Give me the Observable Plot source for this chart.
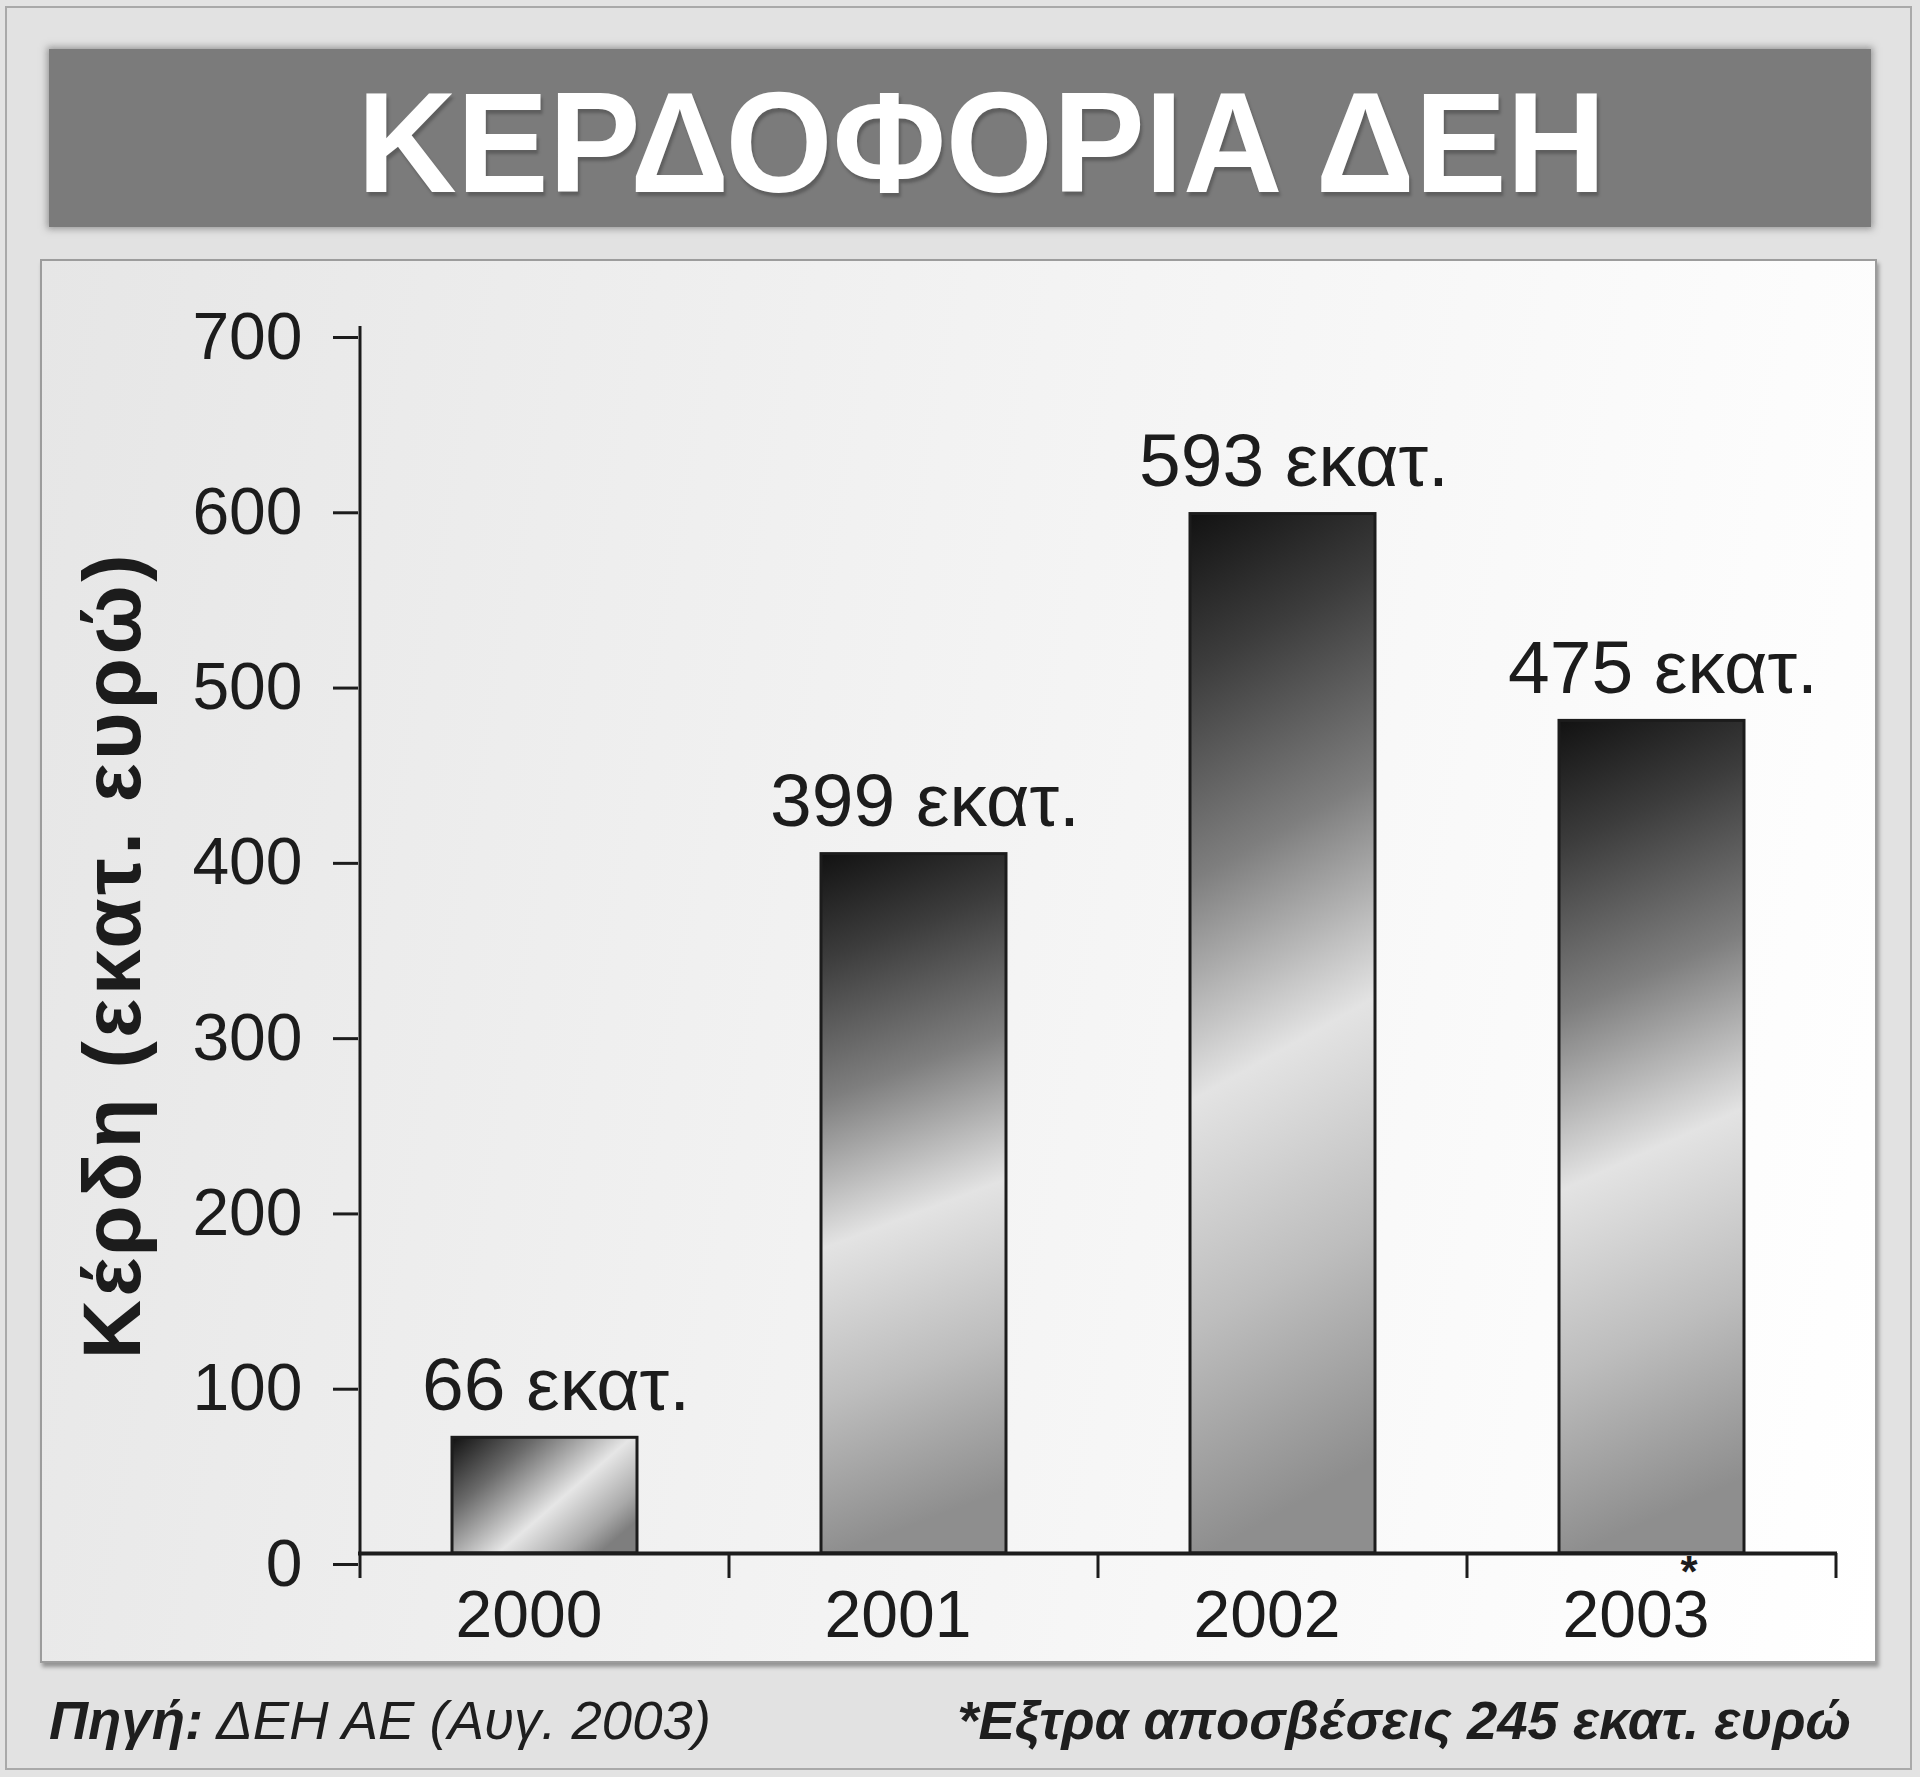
<!DOCTYPE html>
<html>
<head>
<meta charset="utf-8">
<script src="https://cdn.jsdelivr.net/npm/d3@7"></script>
<script src="https://cdn.jsdelivr.net/npm/@observablehq/plot@0.6"></script>
<style>
  html, body { margin: 0; padding: 0; }
  body { width: 1920px; height: 1777px; background: #e3e3e3; position: relative; overflow: hidden;
         font-family: "Liberation Sans", Arial, Helvetica, sans-serif; }
  #outer { position: absolute; left: 5px; top: 6px; width: 1907px; height: 1764px;
           border: 2px solid #a9a9a9; box-sizing: border-box; background: #e2e2e2; }
  #banner { position: absolute; left: 49px; top: 49px; width: 1822px; height: 178px;
            background: #7b7b7b; box-shadow: 0 0 7px 2px rgba(90,90,90,0.55);
            text-align: center; line-height: 178px; }
  #banner span { display: inline-block; color: #fff; font-weight: bold; font-size: 142px;
                 position: relative; top: 5px; left: 22px; transform: scaleX(0.97);
                 text-shadow: 2px 4px 3px rgba(40,40,40,0.35); }
  #panel { position: absolute; left: 40px; top: 259px; width: 1837px; height: 1404px; box-sizing: border-box;
           border: 2px solid #9c9c9c;
           background: linear-gradient(100deg, #e6e6e6 0%, #f2f2f2 45%, #fcfcfc 85%, #ffffff 100%);
           box-shadow: 2px 4px 4px rgba(0,0,0,0.35); }
  #chart { position: absolute; left: 40px; top: 259px; }
  .foot { position: absolute; top: 1694px; font-size: 54.5px; line-height: 54px; font-style: italic; color: #1e1e1e; }
  #source { left: 49px; }
  #note { right: 69px; font-weight: bold; }
</style>
</head>
<body>
<div id="outer"></div>
<div id="banner"><span id="title"></span></div>
<div id="panel"></div>
<div id="chart"></div>
<div class="foot" id="source"></div>
<div class="foot" id="note"></div>
<script>
// ---- data ----
const title = "ΚΕΡΔΟΦΟΡΙΑ ΔΕΗ";
const years = ["2000", "2001", "2002", "2003"];
const profits = [66, 399, 593, 475];
const unit = "εκατ.";
const yTicks = [0, 100, 200, 300, 400, 500, 600, 700];
const yTitle = "Κέρδη (εκατ. ευρώ)";
const noteYears = ["2003"];
const noteMarks = ["*"];
const sourceLabel = "Πηγή:";
const sourceText = "ΔΕΗ ΑΕ (Αυγ. 2003)";
const footnote = "*Εξτρα αποσβέσεις 245 εκατ. ευρώ";

const data = years.map((year, i) => ({year, value: profits[i], label: `${profits[i]} ${unit}`}));
const notes = noteYears.map((year, i) => ({year, base: 0, mark: noteMarks[i]}));

document.getElementById("title").textContent = title;
document.getElementById("source").innerHTML = `<b>${sourceLabel}</b> ${sourceText}`;
document.getElementById("note").textContent = footnote;

const ink = "#1c1c1c";

// boundary ticks between categories + y axis line
function frameTicks(index, scales, values, dimensions) {
  const x = scales.x, y = scales.y;
  const step = x.step(), bw = x.bandwidth();
  const gap = (step - bw) / 2;
  const pos = years.map(d => x(d) - gap);
  pos.push(x(years[years.length - 1]) + bw + gap);
  const g = d3.create("svg:g").attr("stroke", ink).attr("stroke-width", 3);
  const y0 = y(0);
  g.append("line").attr("x1", pos[0]).attr("x2", pos[0]).attr("y1", y(yTicks[yTicks.length - 1])).attr("y2", y0);
  for (const p of pos) {
    g.append("line").attr("x1", p).attr("x2", p).attr("y1", y0).attr("y2", y0 + 25);
  }
  return g.node();
}

const chart = Plot.plot({
  width: 1837,
  height: 1404,
  marginLeft: 318,
  marginRight: 40,
  marginTop: 67,
  marginBottom: 110,
  style: {background: "transparent", color: ink, fontFamily: "'Liberation Sans', Arial, Helvetica, sans-serif", overflow: "visible"},
  x: {domain: years, paddingInner: 0.5, paddingOuter: 0.25, axis: null, label: null},
  y: {domain: [0, 700], axis: null, label: null},
  marks: [
    Plot.barY(data, {filter: d => d.value < 100, x: "year", y: "value", fill: "url(#barShort)", stroke: ink, strokeWidth: 3}),
    Plot.barY(data, {filter: d => d.value >= 100, x: "year", y: "value", fill: "url(#barTall)", stroke: ink, strokeWidth: 3}),
    frameTicks,
    Plot.ruleY([0], {stroke: ink, strokeWidth: 4}),
    Plot.axisY({ticks: yTicks, tickSize: 25, tickPadding: 31, fontSize: 66, strokeWidth: 3, label: null, dy: 11}),
    Plot.axisX({tickSize: 0, tickPadding: 37, fontSize: 66, label: null, dx: -16}),
    Plot.text(data, {x: "year", y: "value", text: "label", fontSize: 75, lineAnchor: "bottom", dy: -28, dx: 11}),
    Plot.text(notes, {x: "year", y: "base", text: "mark", fontSize: 44, fontWeight: "bold", dx: 37, dy: 19}),
    Plot.text([yTitle], {frameAnchor: "left", textAnchor: "middle", lineAnchor: "middle", rotate: -90, dx: -245, dy: 15, fontSize: 82, fontWeight: "bold"})
  ]
});

const svg = d3.select(chart);
svg.selectAll("text").filter(function() { return this.textContent === yTitle; })
  .style("letter-spacing", "3.5px");
const defs = svg.insert("defs", ":first-child");
const tall = defs.append("linearGradient").attr("id", "barTall")
  .attr("x1", 0).attr("y1", 0).attr("x2", 0.1).attr("y2", 1);
[[0, "#121212"], [0.15, "#3c3c3c"], [0.35, "#7e7e7e"], [0.56, "#e3e3e3"], [0.78, "#bdbdbd"], [1, "#8e8e8e"]]
  .forEach(([o, c]) => tall.append("stop").attr("offset", o).attr("stop-color", c));
const short = defs.append("linearGradient").attr("id", "barShort")
  .attr("x1", 0).attr("y1", 0).attr("x2", 1).attr("y2", 0.72);
[[0, "#111111"], [0.3, "#6a6a6a"], [0.64, "#e6e6e6"], [0.88, "#a9a9a9"], [1, "#7e7e7e"]]
  .forEach(([o, c]) => short.append("stop").attr("offset", o).attr("stop-color", c));

document.getElementById("chart").appendChild(chart);
</script>
</body>
</html>
